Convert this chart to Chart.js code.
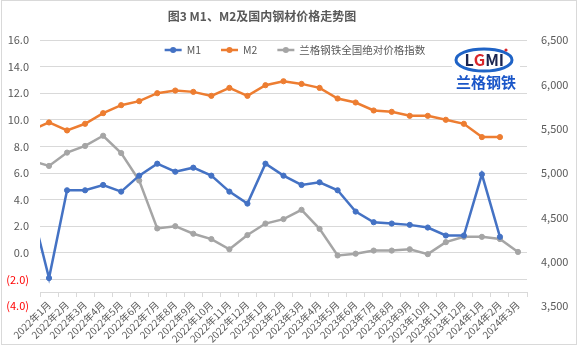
<!DOCTYPE html>
<html>
<head>
<meta charset="utf-8">
<script src="https://cdn.jsdelivr.net/npm/chart.js@4.4.1/dist/chart.umd.min.js"></script>
<style>
  body { margin: 0; background: #fff; }
  #wrap { width: 578px; height: 346px; position: relative; }
</style>
</head>
<body>
<div id="wrap"><canvas id="myChart"></canvas></div>
<script>
// first month sits just left of the visible range so the lines run in from the edge
var monthLabels = ['2021年12月',
    '2022年1月', '2022年2月', '2022年3月', '2022年4月', '2022年5月', '2022年6月',
    '2022年7月', '2022年8月', '2022年9月', '2022年10月', '2022年11月', '2022年12月',
    '2023年1月', '2023年2月', '2023年3月', '2023年4月', '2023年5月', '2023年6月',
    '2023年7月', '2023年8月', '2023年9月', '2023年10月', '2023年11月', '2023年12月',
    '2024年1月', '2024年2月', '2024年3月'];

var m1Values = [3.5,
    -1.9, 4.7, 4.7, 5.1, 4.6, 5.8, 6.7, 6.1, 6.4, 5.8, 4.6, 3.7,
    6.7, 5.8, 5.1, 5.3, 4.7, 3.1, 2.3, 2.2, 2.1, 1.9, 1.3, 1.3,
    5.9, 1.2, null];

var m2Values = [9.2,
    9.8, 9.2, 9.7, 10.5, 11.1, 11.4, 12.0, 12.2, 12.1, 11.8, 12.4, 11.8,
    12.6, 12.9, 12.7, 12.4, 11.6, 11.3, 10.7, 10.6, 10.3, 10.3, 10.0, 9.7,
    8.7, 8.7, null];

var priceIndex = [5140,
    5080, 5230, 5305, 5420, 5225, 4915, 4375, 4400, 4315, 4255, 4140, 4300,
    4430, 4480, 4585, 4370, 4070, 4090, 4125, 4125, 4140, 4085, 4220, 4280,
    4280, 4255, 4110];

var titleText = '图3 M1、M2及国内钢材价格走势图';

var cjkFont = "'Noto Sans CJK SC', 'Noto Sans', sans-serif";
var textGray = '#595959';
var gridGray = '#d9d9d9';

function lineSet(label, data, color, axis) {
    return {
        label: label,
        data: data,
        yAxisID: axis,
        borderColor: color,
        backgroundColor: color,
        borderWidth: 2.5,
        pointRadius: 2.6,
        pointBorderWidth: 1,
        pointBackgroundColor: color,
        tension: 0
    };
}

// title, legend row, logo and the outer frame
var decorPlugin = {
    id: 'decor',
    beforeDraw: function(chart) {
        var ctx = chart.ctx;
        ctx.save();
        ctx.fillStyle = '#fff';
        ctx.fillRect(0, 0, chart.width, chart.height);
        ctx.strokeStyle = gridGray;
        ctx.lineWidth = 1;
        ctx.strokeRect(1.5, 0.5, chart.width - 3, chart.height - 2);
        ctx.restore();
    },
    afterDraw: function(chart) {
        var ctx = chart.ctx;
        ctx.save();

        ctx.fillStyle = textGray;
        ctx.font = 'bold 12px ' + cjkFont;
        ctx.textAlign = 'center';
        ctx.textBaseline = 'middle';
        ctx.fillText(titleText, 262, 16);

        // legend
        ctx.font = '10.5px ' + cjkFont;
        var sets = chart.data.datasets;
        var lineLen = 17, gapText = 5, gapItem = 20;
        var total = 0;
        sets.forEach(function(ds, i) {
            total += lineLen + gapText + ctx.measureText(ds.label).width;
            if (i < sets.length - 1) total += gapItem;
        });
        var x = 295 - total / 2;
        var y = 50;
        ctx.textAlign = 'left';
        sets.forEach(function(ds) {
            ctx.strokeStyle = ds.borderColor;
            ctx.lineWidth = 2.5;
            ctx.beginPath();
            ctx.moveTo(x, y);
            ctx.lineTo(x + lineLen, y);
            ctx.stroke();
            ctx.fillStyle = ds.borderColor;
            ctx.beginPath();
            ctx.arc(x + lineLen / 2, y, 3, 0, Math.PI * 2);
            ctx.fill();
            ctx.fillStyle = textGray;
            ctx.fillText(ds.label, x + lineLen + gapText, y);
            x += lineLen + gapText + ctx.measureText(ds.label).width + gapItem;
        });

        // logo
        ctx.fillStyle = '#fff';
        ctx.fillRect(452, 43, 68, 48);
        ctx.strokeStyle = '#1f63c6';
        ctx.lineWidth = 3;
        ctx.beginPath();
        ctx.ellipse(484, 60, 28, 11, 0, 0, Math.PI * 2);
        ctx.stroke();
        ctx.font = 'bold 16px ' + cjkFont;
        ctx.textAlign = 'left';
        var letters = [['L', '#1b2550'], ['G', '#d8262b'], ['M', '#1b2550'], ['I', '#1b2550']];
        var lx = 484 - ctx.measureText('LGMI').width / 2;
        letters.forEach(function(l) {
            ctx.fillStyle = l[1];
            ctx.fillText(l[0], lx, 60);
            lx += ctx.measureText(l[0]).width;
        });
        ctx.fillStyle = '#d8262b';
        ctx.beginPath();
        ctx.arc(506, 50, 1.6, 0, Math.PI * 2);
        ctx.fill();
        ctx.fillStyle = '#1a56c8';
        ctx.font = 'bold 15px ' + cjkFont;
        ctx.textAlign = 'center';
        ctx.fillText('兰格钢铁', 486, 82);

        ctx.restore();
    }
};

var myChart = new Chart(document.getElementById('myChart'), {
    type: 'line',
    data: {
        labels: monthLabels,
        datasets: [
            lineSet('M1', m1Values, '#4472C4', 'y'),
            lineSet('M2', m2Values, '#ED7D31', 'y'),
            lineSet('兰格钢铁全国绝对价格指数', priceIndex, '#A5A5A5', 'y1')
        ]
    },
    options: {
        responsive: true,
        maintainAspectRatio: false,
        animation: false,
        layout: { padding: { top: 40, bottom: 40, left: 0, right: 0 } },
        plugins: {
            legend: { display: false },
            title: { display: false },
            tooltip: { enabled: false }
        },
        scales: {
            x: {
                type: 'category',
                min: '2022年1月',
                offset: true,
                position: { y: -3 },
                grid: { offset: true, drawOnChartArea: false, drawTicks: true, tickLength: 4, color: gridGray },
                border: { display: true, color: gridGray, width: 1 },
                ticks: {
                    autoSkip: false,
                    minRotation: 45,
                    maxRotation: 45,
                    padding: 2,
                    color: textGray,
                    font: { family: cjkFont, size: 10 }
                }
            },
            y: {
                position: 'left',
                min: -4,
                max: 16,
                afterFit: function(scale) { scale.width = 40; },
                border: { display: false },
                grid: {
                    drawTicks: false,
                    color: function(c) { return c.tick && c.tick.value === -4 ? 'rgba(0,0,0,0)' : gridGray; }
                },
                ticks: {
                    stepSize: 2,
                    padding: 11,
                    font: { family: cjkFont, size: 11 },
                    color: function(c) { return c.tick.value < 0 ? '#FF0000' : textGray; },
                    callback: function(v) {
                        return v < 0 ? '(' + Math.abs(v).toFixed(1) + ')' : v.toFixed(1);
                    }
                }
            },
            y1: {
                position: 'right',
                min: 3500,
                max: 6500,
                afterFit: function(scale) { scale.width = 51; },
                border: { display: false },
                grid: { drawOnChartArea: false, drawTicks: false },
                ticks: {
                    stepSize: 500,
                    padding: 14,
                    font: { family: cjkFont, size: 11 },
                    color: textGray,
                    callback: function(v) { return v.toLocaleString('en-US'); }
                }
            }
        }
    },
    plugins: [decorPlugin]
});
</script>
</body>
</html>
